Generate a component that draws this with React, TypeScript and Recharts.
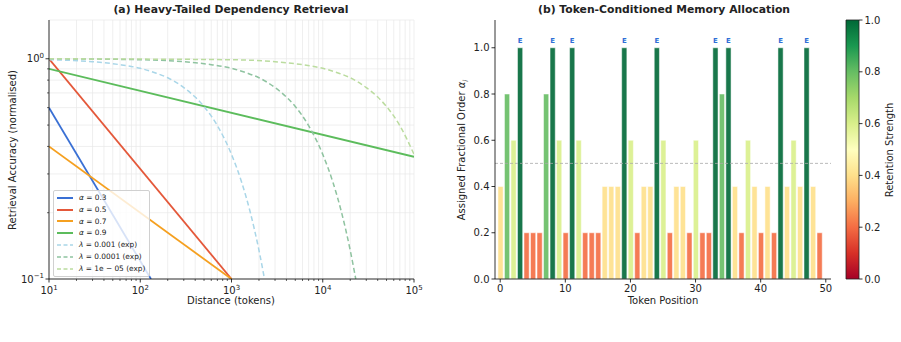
import {
  Bar,
  BarChart,
  CartesianGrid,
  Cell,
  LabelList,
  Legend,
  Line,
  LineChart,
  ReferenceLine,
  XAxis,
  YAxis,
} from 'recharts'

// ---- panel (a): retrieval accuracy vs distance ----
type Pt = { d: number; acc: number }

const alpha03: Pt[] = [{ d: 10, acc: 0.6 }, { d: 131, acc: 0.1 }]
const alpha05: Pt[] = [{ d: 10, acc: 1.0 }, { d: 1000, acc: 0.1 }]
const alpha07: Pt[] = [{ d: 10, acc: 0.4 }, { d: 1000, acc: 0.1 }]
const alpha09: Pt[] = [{ d: 10, acc: 0.9 }, { d: 100000, acc: 0.359 }]

const lambda1e3: Pt[] = [
  { d: 10, acc: 0.99 }, { d: 30, acc: 0.97 }, { d: 60, acc: 0.94 }, { d: 100, acc: 0.905 },
  { d: 150, acc: 0.86 }, { d: 200, acc: 0.82 }, { d: 300, acc: 0.74 }, { d: 400, acc: 0.67 },
  { d: 500, acc: 0.607 }, { d: 700, acc: 0.497 }, { d: 1000, acc: 0.368 }, { d: 1300, acc: 0.273 },
  { d: 1600, acc: 0.202 }, { d: 2000, acc: 0.135 }, { d: 2300, acc: 0.1 },
]
const lambda1e4: Pt[] = [
  { d: 10, acc: 1.0 }, { d: 100, acc: 0.99 }, { d: 300, acc: 0.97 }, { d: 600, acc: 0.94 },
  { d: 1000, acc: 0.905 }, { d: 1500, acc: 0.86 }, { d: 2000, acc: 0.82 }, { d: 3000, acc: 0.74 },
  { d: 4000, acc: 0.67 }, { d: 5000, acc: 0.607 }, { d: 7000, acc: 0.497 }, { d: 10000, acc: 0.368 },
  { d: 13000, acc: 0.273 }, { d: 16000, acc: 0.202 }, { d: 20000, acc: 0.135 }, { d: 23000, acc: 0.1 },
]
const lambda1e5: Pt[] = [
  { d: 10, acc: 1.0 }, { d: 1000, acc: 0.99 }, { d: 3000, acc: 0.97 }, { d: 6000, acc: 0.94 },
  { d: 10000, acc: 0.905 }, { d: 15000, acc: 0.86 }, { d: 20000, acc: 0.82 }, { d: 30000, acc: 0.74 },
  { d: 40000, acc: 0.67 }, { d: 50000, acc: 0.607 }, { d: 70000, acc: 0.497 }, { d: 100000, acc: 0.368 },
]

const distTicks = [
  10, 20, 30, 40, 50, 60, 70, 80, 90,
  100, 200, 300, 400, 500, 600, 700, 800, 900,
  1000, 2000, 3000, 4000, 5000, 6000, 7000, 8000, 9000,
  10000, 20000, 30000, 40000, 50000, 60000, 70000, 80000, 90000, 100000,
]
const distMajor = [10, 100, 1000, 10000, 100000]
const accTicks = [0.1, 0.2, 0.3, 0.4, 0.5, 0.6, 0.7, 0.8, 0.9, 1.0]
const accMajor = [0.1, 1.0]

const series = [
  { key: 'a03', name: '0.3', greek: 'α', data: alpha03, color: '#3a70d4', dashed: false },
  { key: 'a05', name: '0.5', greek: 'α', data: alpha05, color: '#e4583a', dashed: false },
  { key: 'a07', name: '0.7', greek: 'α', data: alpha07, color: '#f5a020', dashed: false },
  { key: 'a09', name: '0.9', greek: 'α', data: alpha09, color: '#5cbc5c', dashed: false },
  { key: 'l3', name: '0.001 (exp)', greek: 'λ', data: lambda1e3, color: '#a9d6e8', dashed: true },
  { key: 'l4', name: '0.0001 (exp)', greek: 'λ', data: lambda1e4, color: '#8fc3a0', dashed: true },
  { key: 'l5', name: '1e − 05 (exp)', greek: 'λ', data: lambda1e5, color: '#bbdc9f', dashed: true },
]

// ---- panel (b): fractional order per token ----
const tokenPositions = Array.from({ length: 50 }, (_, i) => i)
const assignedOrder = [
  0.4, 0.8, 0.6, 1.0, 0.2, 0.2, 0.2, 0.8, 1.0, 0.6,
  0.2, 1.0, 0.6, 0.2, 0.2, 0.2, 0.4, 0.4, 0.4, 1.0,
  0.6, 0.2, 0.4, 0.4, 1.0, 0.6, 0.2, 0.4, 0.4, 0.2,
  0.6, 0.2, 0.2, 1.0, 0.8, 1.0, 0.4, 0.2, 0.6, 0.4,
  0.2, 0.4, 0.2, 1.0, 0.4, 0.6, 0.4, 1.0, 0.4, 0.2,
]
const entityTokens = [3, 8, 11, 19, 24, 33, 35, 43, 47]
const posTicks = [0, 10, 20, 30, 40, 50]
const orderTicks = [0, 0.2, 0.4, 0.6, 0.8, 1.0]
const strengthTicks = [0, 0.2, 0.4, 0.6, 0.8, 1.0]

// RdYlGn samples
const rdYlGn: [number, string][] = [
  [0, '#a50026'], [0.1, '#d73027'], [0.2, '#f46d43'], [0.3, '#fdae61'], [0.4, '#fee08b'],
  [0.5, '#ffffbf'], [0.6, '#d9ef8b'], [0.7, '#a6d96a'], [0.8, '#66bd63'], [0.9, '#1a9850'],
  [1.0, '#006837'],
]
const levelColor = (v: number) => rdYlGn.find(([s]) => Math.abs(s - v) < 1e-6)?.[1] ?? '#ccc'

const tokenData = tokenPositions.map((p, i) => ({
  pos: p,
  order: assignedOrder[i],
  tag: entityTokens.includes(p) ? 'E' : '',
}))

// single full-height bar used as the colour scale strip
const colorbarData = [{ k: 'strength', top: 1 }]

const FONT = '"DejaVu Sans", sans-serif'

function LogXTick(props: any) {
  const { x, y, payload } = props
  const v = payload.value
  const major = distMajor.includes(v)
  return (
    <g>
      <line x1={x} x2={x} y1={y} y2={y + (major ? 3.5 : 2)} stroke="#000" strokeWidth={major ? 0.8 : 0.6} />
      {major && (
        <text x={x} y={y + 15} textAnchor="middle" fontSize={10} fill="#222">
          <tspan>10</tspan>
          <tspan dy={-4.5} fontSize={7}>{Math.round(Math.log10(v))}</tspan>
        </text>
      )}
    </g>
  )
}

function LogYTick(props: any) {
  const { x, y, payload } = props
  const v = payload.value
  const major = accMajor.some((m) => Math.abs(m - v) < 1e-9)
  const exp = Math.round(Math.log10(v))
  return (
    <g>
      <line x1={x - (major ? 3.5 : 2)} x2={x} y1={y} y2={y} stroke="#000" strokeWidth={major ? 0.8 : 0.6} />
      {major && (
        <text x={x - 5} y={y + 3.5} textAnchor="end" fontSize={10} fill="#222">
          <tspan>10</tspan>
          <tspan dy={-4.5} fontSize={7}>{exp === 0 ? '0' : '−1'}</tspan>
        </text>
      )}
    </g>
  )
}

function LegendBox() {
  return (
    <div
      style={{
        background: 'rgba(255,255,255,0.8)',
        border: '1px solid #d0d0d0',
        borderRadius: 2,
        padding: '1px 4px 1px 3px',
        fontSize: 7.4,
        lineHeight: '11.8px',
        color: '#222',
        fontFamily: FONT,
      }}
    >
      {series.map((s) => (
        <div key={s.key} style={{ display: 'flex', alignItems: 'center', whiteSpace: 'nowrap' }}>
          <svg width={17} height={6} style={{ marginRight: 5 }}>
            <line
              x1={0}
              x2={16}
              y1={3}
              y2={3}
              stroke={s.color}
              strokeWidth={s.dashed ? 1.5 : 2}
              strokeDasharray={s.dashed ? '4 2.5' : undefined}
            />
          </svg>
          <span>
            <i>{s.greek}</i> = {s.name}
          </span>
        </div>
      ))}
    </div>
  )
}

function EntityLabel(props: any) {
  const { x, y, width, value } = props
  if (!value) return null
  return (
    <text x={x + width / 2} y={y - 5} textAnchor="middle" fontSize={7} fontWeight="bold" fill="#2f6fd6">
      {value}
    </text>
  )
}

const abs = (left: number, top: number): React.CSSProperties => ({ position: 'absolute', left, top })

export default function App() {
  return (
    <div style={{ position: 'absolute', left: 0, top: 0, width: 901, height: 342, background: '#fff', fontFamily: FONT, color: '#222' }}>
      {/* panel (a) */}
      <div style={abs(0, 0)}>
        <LineChart width={450} height={342} margin={{ top: 20, right: 36, bottom: 33, left: 9 }}>
          <CartesianGrid stroke="#e8e8e8" strokeWidth={0.7} />
          <XAxis
            type="number"
            dataKey="d"
            scale="log"
            domain={[10, 100000]}
            ticks={distTicks}
            interval={0}
            allowDataOverflow
            tick={<LogXTick />}
            tickLine={false}
            tickSize={0}
            tickMargin={0}
            height={30}
            axisLine={{ stroke: '#000', strokeWidth: 0.8 }}
          />
          <YAxis
            type="number"
            dataKey="acc"
            scale="log"
            domain={[0.1, 1.5]}
            ticks={accTicks}
            interval={0}
            allowDataOverflow
            tick={<LogYTick />}
            tickLine={false}
            tickSize={0}
            tickMargin={0}
            width={40}
            axisLine={{ stroke: '#000', strokeWidth: 0.8 }}
          />
          {series.map((s) => (
            <Line
              key={s.key}
              data={s.data}
              dataKey="acc"
              name={s.key}
              type={s.dashed ? 'monotone' : 'linear'}
              stroke={s.color}
              strokeWidth={s.dashed ? 1.5 : 1.8}
              strokeDasharray={s.dashed ? '5 3' : undefined}
              dot={false}
              activeDot={false}
              isAnimationActive={false}
            />
          ))}
          <Legend
            layout="vertical"
            align="center"
            verticalAlign="middle"
            content={<LegendBox />}
            wrapperStyle={{ left: 53, top: 190, width: 'auto' }}
          />
        </LineChart>
      </div>

      {/* panel (b) */}
      <div style={abs(450, 0)}>
        <BarChart width={395} height={342} data={tokenData} margin={{ top: 20, right: 14, bottom: 33, left: 5 }}>
          <XAxis
            type="number"
            dataKey="pos"
            domain={[-0.8, 50.8]}
            ticks={posTicks}
            interval={0}
            tick={{ fontSize: 10, fill: '#222' }}
            tickSize={3.5}
            tickLine={{ stroke: '#000', strokeWidth: 0.8 }}
            axisLine={{ stroke: '#000', strokeWidth: 0.8 }}
            height={30}
          />
          <YAxis
            type="number"
            domain={[0, 1.12]}
            ticks={orderTicks}
            interval={0}
            allowDataOverflow
            tickFormatter={(v: number) => v.toFixed(1)}
            tick={{ fontSize: 10, fill: '#222' }}
            tickSize={3.5}
            tickLine={{ stroke: '#000', strokeWidth: 0.8 }}
            axisLine={{ stroke: '#000', strokeWidth: 0.8 }}
            width={40}
          />
          <ReferenceLine y={0.5} stroke="#aaa" strokeDasharray="3 2" strokeWidth={0.8} />
          <Bar dataKey="order" barSize={5.2} stroke="#fff" strokeWidth={0.5} isAnimationActive={false}>
            {tokenData.map((t) => (
              <Cell key={t.pos} fill={levelColor(t.order)} fillOpacity={0.9} />
            ))}
            <LabelList dataKey="tag" content={<EntityLabel />} />
          </Bar>
        </BarChart>
      </div>

      {/* colorbar */}
      <div style={abs(840, 0)}>
        <BarChart
          width={60}
          height={342}
          data={colorbarData}
          margin={{ top: 20, right: 1, bottom: 63, left: 6 }}
          barCategoryGap={0}
          barGap={0}
        >
          <defs>
            <linearGradient id="rdylgn" x1="0" y1="1" x2="0" y2="0">
              {rdYlGn.map(([s, c]) => (
                <stop key={s} offset={s} stopColor={c} />
              ))}
            </linearGradient>
          </defs>
          <XAxis type="category" dataKey="k" hide />
          <YAxis
            orientation="right"
            type="number"
            domain={[0, 1]}
            ticks={strengthTicks}
            interval={0}
            tickFormatter={(v: number) => v.toFixed(1)}
            tick={{ fontSize: 10, fill: '#222' }}
            tickSize={3.5}
            tickLine={{ stroke: '#000', strokeWidth: 0.8 }}
            axisLine={false}
            width={40}
          />
          <Bar dataKey="top" fill="url(#rdylgn)" stroke="#222" strokeWidth={0.8} isAnimationActive={false} />
        </BarChart>
      </div>

      {/* titles and axis labels */}
      <div style={{ ...abs(0, 3), width: 462, textAlign: 'center', fontSize: 10.8, fontWeight: 'bold' }}>
        (a) Heavy-Tailed Dependency Retrieval
      </div>
      <div style={{ ...abs(0, 295), width: 462, textAlign: 'center', fontSize: 10 }}>Distance (tokens)</div>
      <div
        style={{
          ...abs(12, 150),
          fontSize: 10,
          whiteSpace: 'nowrap',
          transform: 'translate(-50%, -50%) rotate(-90deg)',
        }}
      >
        Retrieval Accuracy (normalised)
      </div>

      <div style={{ ...abs(450, 3), width: 428, textAlign: 'center', fontSize: 10.8, fontWeight: 'bold' }}>
        (b) Token-Conditioned Memory Allocation
      </div>
      <div style={{ ...abs(495, 295), width: 336, textAlign: 'center', fontSize: 10 }}>Token Position</div>
      <div
        style={{
          ...abs(463, 150),
          fontSize: 10,
          whiteSpace: 'nowrap',
          transform: 'translate(-50%, -50%) rotate(-90deg)',
        }}
      >
        Assigned Fractional Order <i>α</i>
        <sub style={{ fontSize: 7, fontStyle: 'italic' }}>i</sub>
      </div>
      <div
        style={{
          ...abs(889, 150),
          fontSize: 10,
          whiteSpace: 'nowrap',
          transform: 'translate(-50%, -50%) rotate(-90deg)',
        }}
      >
        Retention Strength
      </div>
    </div>
  )
}
